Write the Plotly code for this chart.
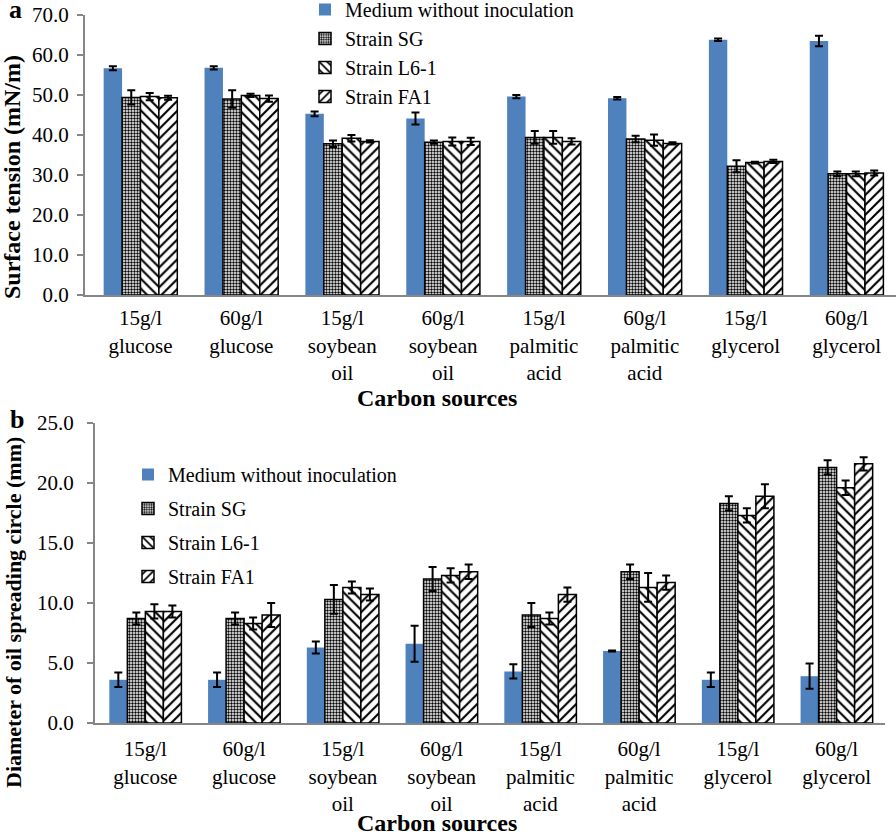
import plotly.graph_objects as go

# carbon sources (x categories)
categories = ['15g/l<br>glucose', '60g/l<br>glucose', '15g/l<br>soybean<br>oil', '60g/l<br>soybean<br>oil',
              '15g/l<br>palmitic<br>acid', '60g/l<br>palmitic<br>acid', '15g/l<br>glycerol', '60g/l<br>glycerol']
series_names = ['Medium without inoculation', 'Strain SG', 'Strain L6-1', 'Strain FA1']

# panel a - surface tension (mN/m)
st_medium = [56.7, 56.8, 45.3, 44.1, 49.6, 49.2, 63.8, 63.5]
st_sg = [49.4, 49.0, 37.8, 38.2, 39.4, 39.0, 32.2, 30.3]
st_l61 = [49.6, 49.9, 39.2, 38.4, 39.4, 38.7, 33.1, 30.3]
st_fa1 = [49.3, 49.1, 38.4, 38.4, 38.4, 37.9, 33.4, 30.5]
st_medium_err = [0.5, 0.4, 0.6, 1.5, 0.4, 0.3, 0.3, 1.3]
st_sg_err = [1.8, 2.2, 0.8, 0.4, 1.6, 0.8, 1.5, 0.6]
st_l61_err = [0.9, 0.4, 0.8, 1.0, 1.6, 1.4, 0.2, 0.6]
st_fa1_err = [0.5, 0.8, 0.3, 0.9, 0.8, 0.3, 0.4, 0.6]

# panel b - diameter of oil spreading circle (mm)
os_medium = [3.6, 3.6, 6.3, 6.6, 4.3, 6.0, 3.6, 3.9]
os_sg = [8.7, 8.7, 10.3, 12.0, 9.0, 12.6, 18.3, 21.3]
os_l61 = [9.3, 8.3, 11.3, 12.3, 8.7, 11.3, 17.3, 19.6]
os_fa1 = [9.3, 9.0, 10.7, 12.6, 10.7, 11.7, 18.9, 21.6]
os_medium_err = [0.6, 0.6, 0.5, 1.5, 0.6, 0.05, 0.6, 1.05]
os_sg_err = [0.5, 0.5, 1.2, 1.0, 1.0, 0.6, 0.6, 0.6]
os_l61_err = [0.6, 0.5, 0.5, 0.6, 0.5, 1.2, 0.6, 0.6]
os_fa1_err = [0.5, 1.0, 0.5, 0.6, 0.6, 0.6, 1.0, 0.55]

BLUE = '#4F81BD'
FONT = 'Liberation Serif, Times New Roman, serif'
W, H = 896, 832


def px(x):
    return x / W


def py(y):
    return 1 - y / H


def marker_for(i):
    if i == 0:
        return dict(color=BLUE, line=dict(color=BLUE, width=0))
    shapes = ['.', '\\', '/']
    sizes = [3, 7, 7]
    solid = [0.5, 0.3, 0.3]
    return dict(color='white', line=dict(color='black', width=1.5),
                pattern=dict(shape=shapes[i - 1], size=sizes[i - 1], solidity=solid[i - 1],
                             fgcolor='black', bgcolor='white', fillmode='replace'))


fig = go.Figure()

data_a = [(st_medium, st_medium_err), (st_sg, st_sg_err), (st_l61, st_l61_err), (st_fa1, st_fa1_err)]
data_b = [(os_medium, os_medium_err), (os_sg, os_sg_err), (os_l61, os_l61_err), (os_fa1, os_fa1_err)]

for i, (vals, errs) in enumerate(data_a):
    fig.add_trace(go.Bar(
        x=categories, y=vals, name=series_names[i],
        marker=marker_for(i),
        error_y=dict(type='data', array=errs, color='black', thickness=2, width=4),
        xaxis='x', yaxis='y', legend='legend', legendgroup='a%d' % i,
    ))

for i, (vals, errs) in enumerate(data_b):
    fig.add_trace(go.Bar(
        x=categories, y=vals, name=series_names[i],
        marker=marker_for(i),
        error_y=dict(type='data', array=errs, color='black', thickness=2, width=4),
        xaxis='x2', yaxis='y2', legend='legend2', legendgroup='b%d' % i,
    ))

axis_common = dict(showline=True, linecolor='#868686', linewidth=2, showgrid=False, zeroline=False,
                   automargin=False, ticklabeloverflow='allow',
                   tickfont=dict(family=FONT, size=21, color='black'))

fig.update_layout(
    template='none',
    width=W, height=H, autosize=False,
    margin=dict(l=0, r=0, t=0, b=0, pad=0, autoexpand=False),
    paper_bgcolor='white', plot_bgcolor='white',
    barmode='group', bargroupgap=0,
    font=dict(family=FONT, color='black'),
    xaxis=dict(domain=[px(85), px(896)], anchor='y', range=[-0.55, 7.49], ticks='',
               ticklabelstandoff=3, **axis_common),
    yaxis=dict(domain=[py(295), py(15)], anchor='x', range=[0, 70], dtick=10, tickformat='.1f',
               ticks='outside', ticklen=6, tickcolor='#868686', tickwidth=1.5, ticklabelstandoff=4,
               **axis_common),
    xaxis2=dict(domain=[px(95), px(885)], anchor='y2', range=[-0.51, 7.49], ticks='',
                ticklabelstandoff=6, **axis_common),
    yaxis2=dict(domain=[py(723), py(423)], anchor='x2', range=[0, 25], dtick=5, tickformat='.1f',
                ticks='outside', ticklen=6, tickcolor='#868686', tickwidth=1.5, ticklabelstandoff=9,
                **axis_common),
    bargap=0.27,
    legend=dict(x=px(305), y=py(-10), xanchor='left', yanchor='top', bgcolor='rgba(0,0,0,0)',
                font=dict(family=FONT, size=20, color='black'), tracegroupgap=0,
                traceorder='grouped'),
    legend2=dict(x=px(128), y=py(455), xanchor='left', yanchor='top', bgcolor='rgba(0,0,0,0)',
                 font=dict(family=FONT, size=20, color='black'), tracegroupgap=5,
                 traceorder='grouped'),
)

annots = [
    dict(text='<b>a</b>', x=15, y=10, size=26),
    dict(text='<b>b</b>', x=17, y=419, size=26),
    dict(text='<b>Surface tension (mN/m)</b>', x=12, y=177, size=24, angle=-90),
    dict(text='<b>Diameter of oil spreading circle (mm)</b>', x=13, y=613, size=22, angle=-90),
    dict(text='<b>Carbon sources</b>', x=437, y=398, size=24),
    dict(text='<b>Carbon sources</b>', x=437, y=823, size=24),
]
for a in annots:
    fig.add_annotation(text=a['text'], x=px(a['x']), y=py(a['y']), xref='paper', yref='paper',
                       xanchor='center', yanchor='middle', showarrow=False,
                       textangle=a.get('angle', 0), font=dict(family=FONT, size=a['size'], color='black'))

# drop the default page margin so the figure fills the window
fig.write_html("out.html", config={'displayModeBar': False},
               post_script="document.body.style.margin = '0';")
